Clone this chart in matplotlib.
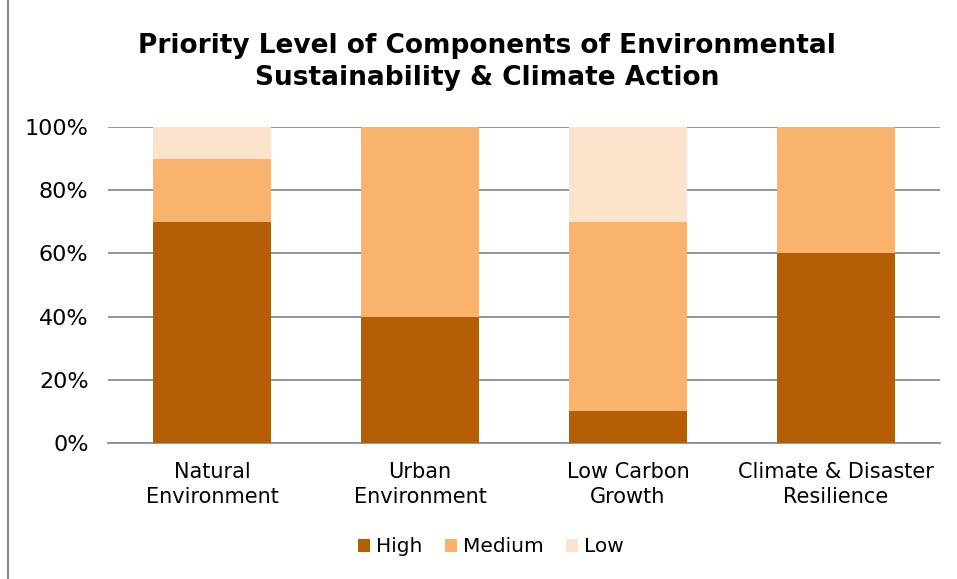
import matplotlib
import matplotlib.pyplot as plt
from matplotlib.patches import Rectangle
from matplotlib.ticker import PercentFormatter

matplotlib.use('agg')

categories = ['Natural\nEnvironment', 'Urban\nEnvironment', 'Low Carbon\nGrowth', 'Climate & Disaster\nResilience']
high = [70, 40, 10, 60]
medium = [20, 60, 60, 40]
low = [10, 0, 30, 0]
series_names = ['High', 'Medium', 'Low']
colors = ['#B45F06', '#F9B36C', '#FCE4CC']

fig = plt.figure(figsize=(9.57, 5.79), dpi=100)
ax = fig.add_axes([108 / 957, 1 - 443 / 579, 832 / 957, 316 / 579])

x = range(len(categories))
bottom = [0] * len(categories)
for name, vals, c in zip(series_names, [high, medium, low], colors):
    ax.bar(x, vals, width=0.57, bottom=bottom, color=c, label=name, zorder=3)
    bottom = [b + v for b, v in zip(bottom, vals)]

ax.set_xlim(-0.5, 3.5)
ax.set_ylim(0, 100)
ax.set_yticks([0, 20, 40, 60, 80, 100])
ax.yaxis.set_major_formatter(PercentFormatter(decimals=0))
ax.grid(axis='y', color='#8c8c8c', linewidth=1.3, zorder=0)
ax.set_xticks(list(x))
ax.set_xticklabels(categories, fontsize=15, linespacing=1.3)
ax.tick_params(axis='y', labelsize=16, length=0, pad=14)
ax.tick_params(axis='x', length=0, pad=14)
for s in ax.spines.values():
    s.set_visible(False)
ax.axhline(0, color='#8c8c8c', linewidth=1.3, zorder=0, clip_on=False)

fig.text(487 / 957, 1 - 62 / 579,
         'Priority Level of Components of Environmental\nSustainability & Climate Action',
         fontsize=19, fontweight='bold', ha='center', va='center', linespacing=1.28)

fig.legend(loc='center', bbox_to_anchor=(491 / 957, 1 - 547 / 579), ncol=3, frameon=False,
           fontsize=14.5, handlelength=0.6, handleheight=0.6, handletextpad=0.3,
           columnspacing=1.1)

# chart frame
fig.patches.append(Rectangle((8 / 957, -0.01), 1.2, 1.2, transform=fig.transFigure,
                             fill=False, edgecolor='#868686', linewidth=1.5))

fig.savefig('out.png', dpi=100)
